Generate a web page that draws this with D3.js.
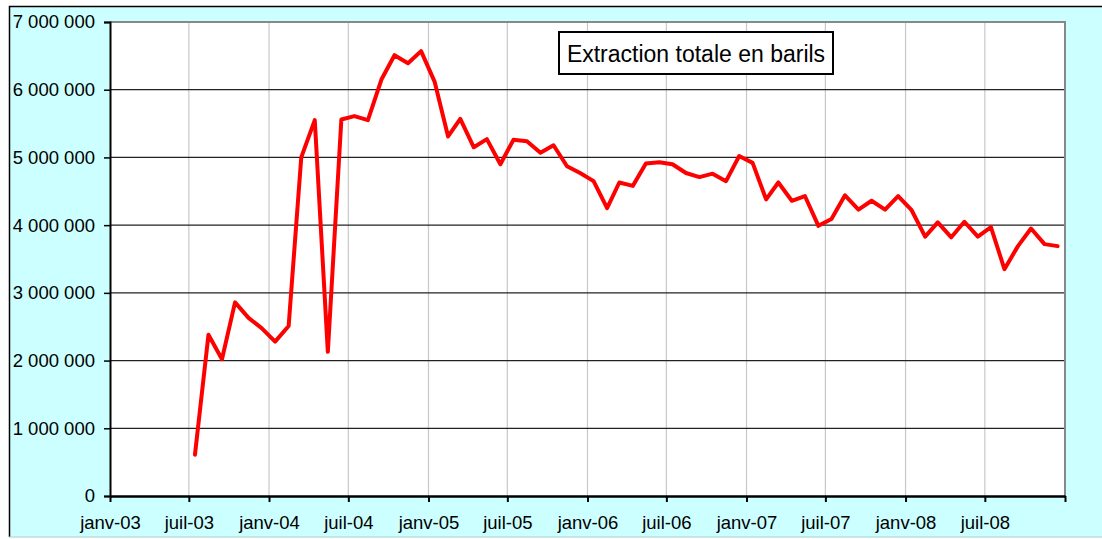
<!DOCTYPE html>
<html>
<head>
<meta charset="utf-8">
<script src="https://cdn.jsdelivr.net/npm/d3@7"></script>
<style>
  body { margin: 0; background: #fff; }
  svg { display: block; font-family: "Liberation Sans", Arial, sans-serif; }
</style>
</head>
<body>
<div id="chart"></div>
<script>
// monthly extraction, barrels
const months = [
  "2003-07", "2003-08", "2003-09", "2003-10", "2003-11", "2003-12",
  "2004-01", "2004-02", "2004-03", "2004-04", "2004-05", "2004-06",
  "2004-07", "2004-08", "2004-09", "2004-10", "2004-11", "2004-12",
  "2005-01", "2005-02", "2005-03", "2005-04", "2005-05", "2005-06",
  "2005-07", "2005-08", "2005-09", "2005-10", "2005-11", "2005-12",
  "2006-01", "2006-02", "2006-03", "2006-04", "2006-05", "2006-06",
  "2006-07", "2006-08", "2006-09", "2006-10", "2006-11", "2006-12",
  "2007-01", "2007-02", "2007-03", "2007-04", "2007-05", "2007-06",
  "2007-07", "2007-08", "2007-09", "2007-10", "2007-11", "2007-12",
  "2008-01", "2008-02", "2008-03", "2008-04", "2008-05", "2008-06",
  "2008-07", "2008-08", "2008-09", "2008-10", "2008-11", "2008-12"
];

const barrels = [
  610000, 2380000, 2020000, 2860000, 2630000, 2480000,
  2280000, 2510000, 5000000, 5550000, 2130000, 5560000,
  5610000, 5550000, 6150000, 6510000, 6390000, 6570000,
  6120000, 5310000, 5570000, 5150000, 5270000, 4900000,
  5260000, 5240000, 5070000, 5180000, 4870000, 4770000,
  4650000, 4250000, 4630000, 4580000, 4910000, 4930000,
  4900000, 4770000, 4710000, 4760000, 4650000, 5020000,
  4920000, 4380000, 4630000, 4360000, 4430000, 3990000,
  4090000, 4440000, 4230000, 4360000, 4230000, 4430000,
  4220000, 3830000, 4040000, 3820000, 4050000, 3830000,
  3970000, 3350000, 3690000, 3950000, 3720000, 3690000
];

const xTickLabels = [
  "janv-03", "juil-03", "janv-04", "juil-04", "janv-05", "juil-05",
  "janv-06", "juil-06", "janv-07", "juil-07", "janv-08", "juil-08", ""
];
const yTicks = [0, 1000000, 2000000, 3000000, 4000000, 5000000, 6000000, 7000000];
const seriesName = "Extraction totale en barils";

const W = 1102, H = 539;
const plot = { left: 110, top: 22, right: 1065, bottom: 496 };

const parseMonth = d3.timeParse("%Y-%m");
// points sit in the middle of each month
const points = months.map((m, i) => ({
  date: d3.timeDay.offset(parseMonth(m), 14),
  value: barrels[i]
}));

const x = d3.scaleTime()
  .domain([new Date(2003, 0, 1), new Date(2009, 0, 1)])
  .range([plot.left, plot.right]);

const y = d3.scaleLinear()
  .domain([0, 7000000])
  .range([plot.bottom, plot.top]);

const xTickDates = d3.timeMonth.every(6).range(new Date(2003, 0, 1), new Date(2009, 0, 2));
const fmt = d3.formatLocale({ decimal: ",", thousands: " ", grouping: [3], currency: ["", ""] }).format(",d");

const svg = d3.select("#chart").append("svg")
  .attr("width", W)
  .attr("height", H);

// outer chart area
svg.append("rect")
  .attr("x", 9).attr("y", 6)
  .attr("width", W - 9).attr("height", 531)
  .attr("fill", "#ccffff");
svg.append("path").attr("d", "M9.5,537V6.5H1102").attr("fill", "none").attr("stroke", "#000").attr("stroke-width", 1.5);
svg.append("line").attr("x1", 9).attr("x2", W).attr("y1", 537).attr("y2", 537).attr("stroke", "#a8d0d0");

// plot area
svg.append("rect")
  .attr("x", plot.left).attr("y", plot.top)
  .attr("width", plot.right - plot.left).attr("height", plot.bottom - plot.top)
  .attr("fill", "#fff");

// vertical grid
svg.append("g")
  .selectAll("line")
  .data(xTickDates.slice(1, -1))
  .enter().append("line")
  .attr("x1", d => x(d)).attr("x2", d => x(d))
  .attr("y1", plot.top).attr("y2", plot.bottom)
  .attr("stroke", "#c8c8c8")
  .attr("stroke-width", 1.2);

// horizontal grid
svg.append("g")
  .selectAll("line")
  .data(yTicks.slice(1, -1))
  .enter().append("line")
  .attr("x1", plot.left).attr("x2", plot.right)
  .attr("y1", d => y(d)).attr("y2", d => y(d))
  .attr("stroke", "#222")
  .attr("stroke-width", 1.2);

// top / right frame
svg.append("path")
  .attr("d", `M${plot.left},${plot.top}H${plot.right}V${plot.bottom}`)
  .attr("fill", "none")
  .attr("stroke", "#888")
  .attr("stroke-width", 2);

const yAxis = d3.axisLeft(y)
  .tickValues(yTicks)
  .tickFormat(d => fmt(d))
  .tickSize(6)
  .tickPadding(9);

const gy = svg.append("g")
  .attr("transform", `translate(${plot.left},0)`)
  .call(yAxis);
gy.select(".domain").attr("stroke", "#000").attr("stroke-width", 2);
gy.selectAll(".tick line").attr("stroke", "#000").attr("stroke-width", 1.5);
gy.selectAll("text").attr("font-size", "18.5px").attr("fill", "#000");

const xAxis = d3.axisBottom(x)
  .tickValues(xTickDates)
  .tickFormat((d, i) => xTickLabels[i])
  .tickSize(6)
  .tickSizeOuter(0)
  .tickPadding(14);

const gx = svg.append("g")
  .attr("transform", `translate(0,${plot.bottom})`)
  .call(xAxis);
gx.select(".domain").attr("stroke", "#000").attr("stroke-width", 2.5);
gx.selectAll(".tick line").attr("stroke", "#000").attr("stroke-width", 2);
gx.selectAll("text").attr("font-size", "18.5px").attr("fill", "#000");

// series line
const line = d3.line()
  .x(d => x(d.date))
  .y(d => y(d.value));

svg.append("path")
  .datum(points)
  .attr("d", line)
  .attr("fill", "none")
  .attr("stroke", "#ff0000")
  .attr("stroke-width", 4)
  .attr("stroke-linejoin", "round")
  .attr("stroke-linecap", "round");

// legend box
const legend = svg.append("g").attr("transform", "translate(559,32)");
legend.append("rect")
  .attr("x", 0).attr("y", 0)
  .attr("width", 274).attr("height", 42)
  .attr("fill", "#fff")
  .attr("stroke", "#000")
  .attr("stroke-width", 2);
legend.append("text")
  .attr("x", 137).attr("y", 30)
  .attr("text-anchor", "middle")
  .attr("font-size", "23px")
  .attr("fill", "#000")
  .text(seriesName);
</script>
</body>
</html>
